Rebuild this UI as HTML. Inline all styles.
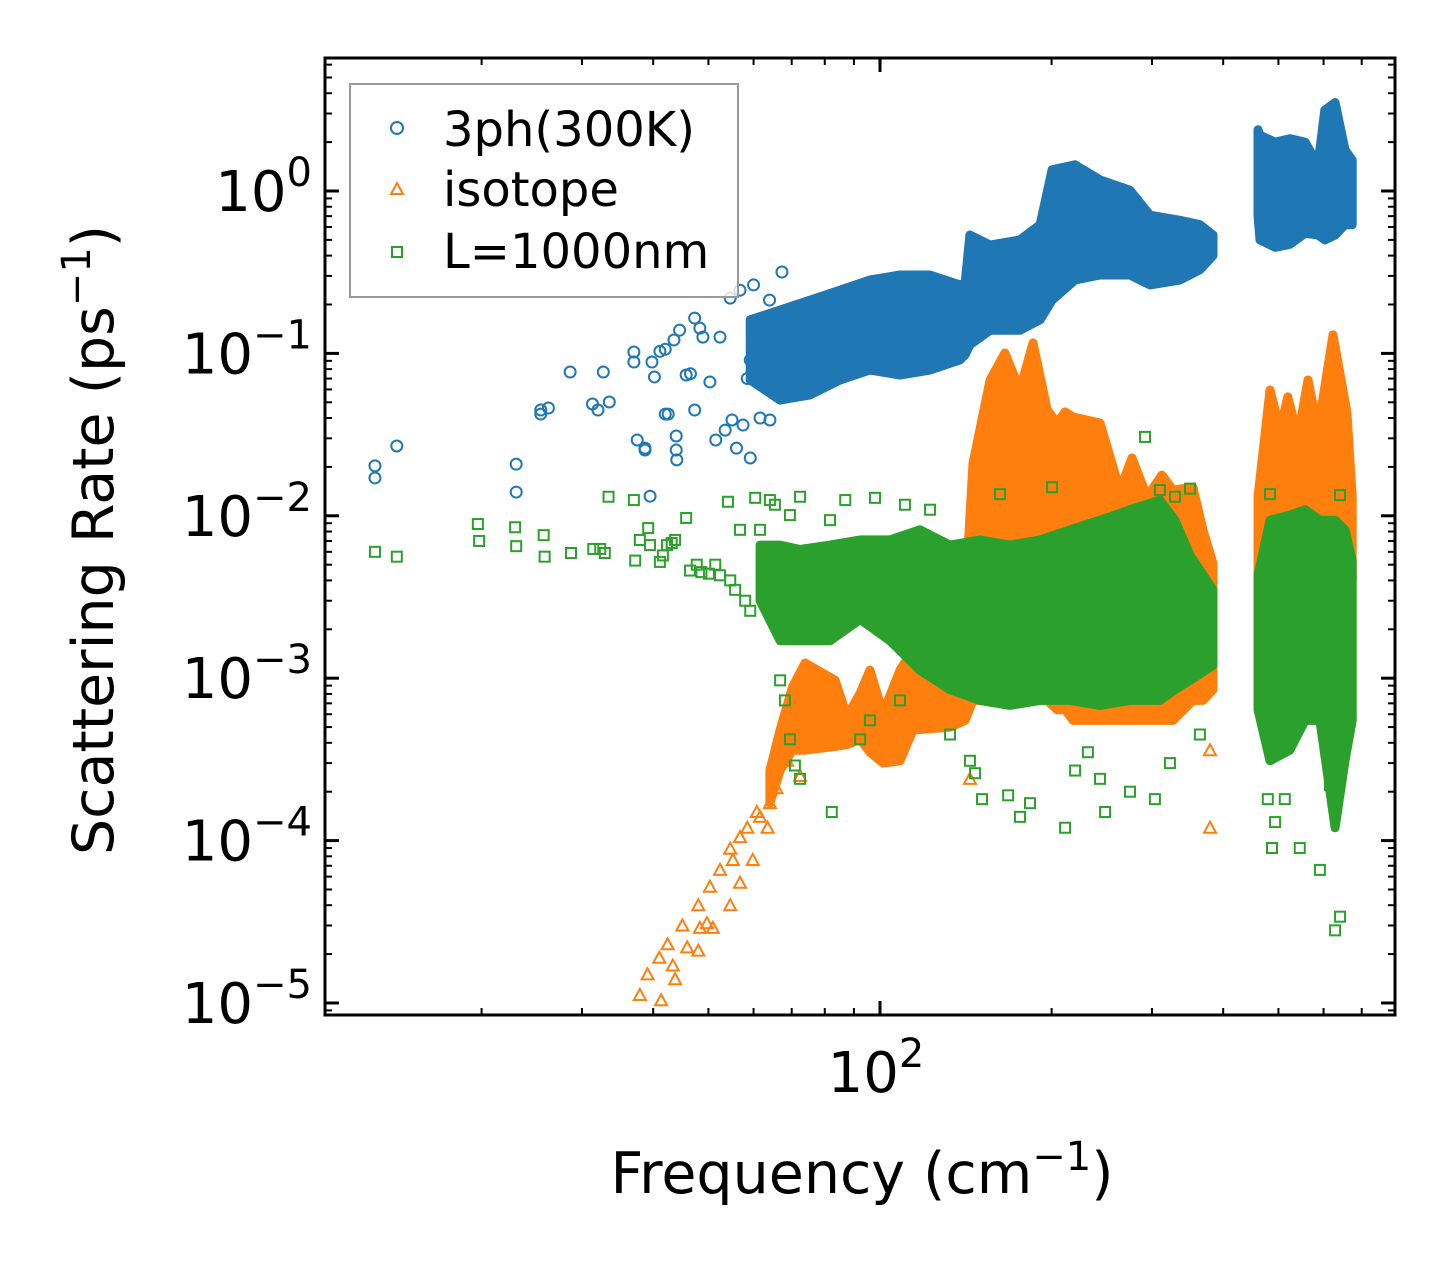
<!DOCTYPE html>
<html><head><meta charset="utf-8"><style>
html,body{margin:0;padding:0;background:#fff}
svg{display:block;font-family:"DejaVu Sans","Liberation Sans",sans-serif}
</style></head><body>
<svg id="chart" width="1455" height="1265" viewBox="0 0 1455 1265" xmlns="http://www.w3.org/2000/svg">
<g id="marks"></g>
<g id="axes"></g>
<g id="legend">
<rect x="350" y="84" width="388" height="213" fill="#fff" fill-opacity="0.8" stroke="#999" stroke-width="2"/>
<circle cx="397" cy="128" r="6" fill="none" stroke="#1f77b4" stroke-width="2"/>
<text x="443" y="146" font-size="48">3ph(300K)</text>
<path d="M397 183 L403 194 L391 194 Z" fill="none" stroke="#ff7f0e" stroke-width="2"/>
<text x="443" y="206" font-size="48">isotope</text>
<rect x="392" y="247" width="10" height="10" fill="none" stroke="#2ca02c" stroke-width="2"/>
<text x="443" y="268" font-size="48">L=1000nm</text>
</g>
<text transform="translate(113,540) rotate(-90)" text-anchor="middle" font-size="57">Scattering Rate (ps<tspan dy="-23" font-size="40">−1</tspan><tspan dy="23">)</tspan></text>
<text x="862" y="1193" text-anchor="middle" font-size="57">Frequency (cm<tspan dy="-23" font-size="40">−1</tspan><tspan dy="23">)</tspan></text>
</svg>
<script>
// ---- data ----
const blueSparseF=[13.0,13.0,14.2,23.0,23.0,25.4,25.4,26.2,28.6,31.3,32,32.7,33.5,37.0,37.0,37.5,38.7,38.7,39.5,39.8,40.2,41.1,42,42,42.5,43.5,43.9,43.9,44,44.5,45.7,46.5,47.3,47.3,48.3,48.9,50.3,51.5,52.4,53.5,54.6,55,56,56.8,57.5,58.5,59.2,59.2,60,61,61,61.6,63,64,64.1,67.3];
const blueSparseR=[0.0203,0.0171,0.0269,0.0208,0.014,0.0448,0.0423,0.0461,0.0768,0.0488,0.0448,0.0768,0.0502,0.102,0.0885,0.0293,0.0261,0.0254,0.0132,0.0885,0.0716,0.103,0.106,0.0423,0.0423,0.121,0.0254,0.031,0.0221,0.139,0.0736,0.075,0.165,0.0448,0.143,0.126,0.0667,0.0293,0.126,0.0337,0.219,0.0389,0.0261,0.245,0.0362,0.07,0.0227,0.091,0.264,0.139,0.0736,0.04,0.161,0.213,0.0389,0.317];
const blueBandF=[59.2,66.8,75.4,85.1,96.0,108.4,122.4,138.1,141.0,143.8,156.0,176.0,190.9,200.4,219.9,243.2,274.5,297.6,335.9,364.1,383.9];
const blueBandLo=[0.0686,0.0516,0.0555,0.0686,0.079,0.0736,0.079,0.091,0.098,0.113,0.139,0.139,0.161,0.213,0.283,0.304,0.304,0.264,0.283,0.327,0.40];
const blueBandHi=[0.161,0.185,0.213,0.245,0.283,0.304,0.304,0.264,0.27,0.536,0.465,0.50,0.62,1.35,1.45,1.17,1.01,0.71,0.66,0.62,0.536];
const blueBand2F=[460.4,464.2,493.3,523.6,557,586.6,603,628.6,654.3,673.5];
const blueBand2Lo=[0.71,0.50,0.45,0.47,0.55,0.536,0.50,0.536,0.62,0.62];
const blueBand2Hi=[2.38,2.2,2.0,2.1,2.0,1.45,3.15,3.5,1.79,1.55];

const orangeSparseF=[37.9,41.3,39.1,41.0,43.3,43.7,42.4,45.0,45.9,48.0,48.3,49.7,50.9,48.0,54.6,50.3,52.4,55.2,56.8,56.8,59.8,61.6,64.1,63.5,54.6,58.5,60.8,65.8,68.7,72.4,143.8,379.3,379.3];
const orangeSparseR=[0.0000112,0.0000104,0.000015,0.000019,0.000017,0.000014,0.000023,0.00003,0.000022,0.000021,0.000029,0.000031,0.000029,0.00004,0.00004,0.000052,0.000066,0.000076,0.000055,0.000105,0.000076,0.00014,0.00017,0.00012,0.000089,0.00012,0.00015,0.00021,0.00031,0.00025,0.00024,0.00012,0.00036];
const orangeBandF=[64.1,66.8,70.2,73.9,83.4,87.5,92.3,96.0,101.2,108.4,114.3,132.7,141.0,145.6,156.0,165.6,176.0,185.5,196.5,204.5,211.2,218.2,243.2,253.3,263.6,276.7,294.0,312.3,326.6,354.0,368.6,383.9];
const orangeBandLo=[0.00017,0.00027,0.00036,0.00036,0.00038,0.00039,0.00042,0.00035,0.0003,0.00031,0.00048,0.0005,0.00055,0.00073,0.00073,0.00073,0.00073,0.00073,0.00073,0.00064,0.00064,0.00055,0.00055,0.00055,0.00055,0.00055,0.00055,0.00055,0.00055,0.00073,0.00073,0.00085];
const orangeBandHi=[0.00027,0.00048,0.00088,0.00124,0.00097,0.00058,0.00081,0.00112,0.00061,0.00112,0.0015,0.0017,0.0030,0.0211,0.0686,0.1005,0.0595,0.116,0.0448,0.0373,0.0436,0.0406,0.0373,0.023,0.0144,0.0227,0.0131,0.0178,0.0144,0.0150,0.0082,0.0051];
const orangeBand2F=[460.4,483.3,503.4,519.4,541,563.5,586.6,623.3,659.7,673.5];
const orangeBand2Lo=[0.004,0.0053,0.0053,0.0053,0.0053,0.0053,0.0053,0.0053,0.0053,0.004];
const orangeBand2Hi=[0.0131,0.0595,0.0337,0.054,0.0306,0.0686,0.0337,0.130,0.043,0.0131];

const greenSparseF=[13.0,14.2,19.7,19.8,22.9,23.0,25.7,25.8,28.7,31.4,32.3,32.9,33.4,37.0,37.2,37.9,39.2,39.5,41.1,41.6,42.3,43.1,43.7,45.7,46.4,47.7,48.6,50.1,51.4,52.4,54.1,54.6,55.7,56.8,58.0,59.2,60.4,61.6,64.1,65.4,69.5,72.4,81.7,86.9,98.0,110.6,122.4,66.8,68.1,69.5,70.9,72.4,82.3,92.3,96.0,108.4,132.7,143.8,146.8,151.0,167.8,176.0,183.3,211.2,219.9,231.6,243.2,248.2,274.5,303.6,322.6,364.1,493.3,487.2,545,591.2,628.6,641.3,615.8,479,513,291.7,309.8,349.9,329.3,200.4,162.4,483.3,641.3];
const greenSparseR=[0.0060,0.0056,0.0089,0.0070,0.0085,0.0065,0.0076,0.0056,0.0059,0.00625,0.00625,0.0059,0.0131,0.0125,0.0053,0.0071,0.0084,0.0066,0.0052,0.0057,0.0066,0.0068,0.0071,0.0097,0.0046,0.0050,0.0045,0.0044,0.0050,0.0043,0.0122,0.0040,0.0035,0.0082,0.0030,0.0026,0.0129,0.0082,0.0125,0.0117,0.0101,0.0131,0.0094,0.0125,0.0129,0.0117,0.0109,0.00097,0.00073,0.00042,0.00029,0.00024,0.00015,0.00042,0.00055,0.00073,0.00045,0.00031,0.00026,0.00018,0.00019,0.00014,0.00017,0.00012,0.00027,0.00035,0.00024,0.00015,0.0002,0.00018,0.0003,0.00045,0.00013,0.00009,0.00009,0.000066,0.000028,0.000034,0.00022,0.00018,0.00018,0.0306,0.0144,0.0147,0.0131,0.0150,0.0136,0.0136,0.0134];
const greenBandF=[61.6,66.8,72.4,81.7,92.3,104.1,117.5,132.7,149.7,169.0,190.9,215.4,243.2,274.5,309.8,329.3,349.9,383.9];
const greenBandLo=[0.0030,0.0017,0.0017,0.0017,0.0023,0.0017,0.00112,0.00085,0.00073,0.00068,0.00073,0.00073,0.00068,0.00073,0.00073,0.00085,0.00097,0.0012];
const greenBandHi=[0.0066,0.0066,0.0062,0.0066,0.0071,0.0071,0.0082,0.0066,0.0071,0.0066,0.0071,0.0082,0.0094,0.0109,0.0125,0.0094,0.0057,0.0035];
const greenBand2F=[460.4,483.3,523.6,557,591.2,628.6,654.3,673.5];
const greenBand2Lo=[0.00064,0.00031,0.00036,0.00055,0.00055,0.00012,0.00031,0.00055];
const greenBand2Hi=[0.0043,0.0094,0.0101,0.0109,0.0094,0.0094,0.0082,0.0053];

const yTickExps=[0,-1,-2,-3,-4,-5];
const yTickLabels=["0","\u22121","\u22122","\u22123","\u22124","\u22125"];
const xMajorExps=[2];
const xMajorLabels=["2"];

// ---- scales ----
const L=325,R=1395,T=58,B=1015;
const xmin=1.0263,xmax=2.9035,ymin=-5.074,ymax=0.819;
function sx(f){return L+(Math.log10(f)-xmin)/(xmax-xmin)*(R-L);}
function sy(v){return B-(Math.log10(v)-ymin)/(ymax-ymin)*(B-T);}
const NS="http://www.w3.org/2000/svg";
const marks=document.getElementById('marks'), axes=document.getElementById('axes');
function mk(tag,attrs,parent){const e=document.createElementNS(NS,tag);for(const k in attrs)e.setAttribute(k,attrs[k]);parent.appendChild(e);return e;}

function band(F,Lo,Hi,color,name){
  let pts=[];
  for(let i=0;i<F.length;i++)pts.push(sx(F[i]).toFixed(1)+','+sy(Hi[i]).toFixed(1));
  for(let i=F.length-1;i>=0;i--)pts.push(sx(F[i]).toFixed(1)+','+sy(Lo[i]).toFixed(1));
  const p=mk('polygon',{points:pts.join(' '),fill:color,stroke:color,'stroke-width':9,'stroke-linejoin':'round'},marks);
  
  
}
function circles(F,V,color){
  for(let i=0;i<F.length;i++){
    const c=mk('circle',{cx:sx(F[i]),cy:sy(V[i]),r:5.5,fill:'none',stroke:color,'stroke-width':2},marks);
    
    
  }
}
function tris(F,V,color){
  for(let i=0;i<F.length;i++){
    const x=sx(F[i]),y=sy(V[i]);
    const t=mk('path',{d:`M${x} ${y-6} L${x+6} ${y+5} L${x-6} ${y+5} Z`,fill:'none',stroke:color,'stroke-width':2},marks);
    
    
  }
}
function squares(F,V,color){
  for(let i=0;i<F.length;i++){
    const s=mk('rect',{x:sx(F[i])-5,y:sy(V[i])-5,width:10,height:10,fill:'none',stroke:color,'stroke-width':2},marks);
    
    
  }
}
const CB='#1f77b4',CO='#ff7f0e',CG='#2ca02c';
band(blueBandF,blueBandLo,blueBandHi,CB,'band-3ph-low');
band(blueBand2F,blueBand2Lo,blueBand2Hi,CB,'band-3ph-high');
circles(blueSparseF,blueSparseR,CB);
band(orangeBandF,orangeBandLo,orangeBandHi,CO,'band-isotope-low');
band(orangeBand2F,orangeBand2Lo,orangeBand2Hi,CO,'band-isotope-high');
tris(orangeSparseF,orangeSparseR,CO);
band(greenBandF,greenBandLo,greenBandHi,CG,'band-boundary-low');
band(greenBand2F,greenBand2Lo,greenBand2Hi,CG,'band-boundary-high');
squares(greenSparseF,greenSparseR,CG);

// ---- axes ----
const frame=mk('rect',{x:L,y:T,width:R-L,height:B-T,fill:'none',stroke:'#000','stroke-width':3},axes);


function tick(x1,y1,x2,y2,w){mk('line',{x1:x1,y1:y1,x2:x2,y2:y2,stroke:'#000','stroke-width':w},axes);}
for(let e=-6;e<=1;e++){
  for(let m=1;m<10;m++){
    const v=m*Math.pow(10,e);const lv=Math.log10(v);
    if(lv<ymin||lv>ymax)continue;
    const y=sy(v);const len=m===1?14:7,w=m===1?3:2;
    tick(L,y,L+len,y,w);tick(R,y,R-len,y,w);
  }
}
for(let e=0;e<=3;e++){
  for(let m=1;m<10;m++){
    const f=m*Math.pow(10,e);const lf=Math.log10(f);
    if(lf<=xmin||lf>=xmax)continue;
    const x=sx(f);const len=m===1?14:7,w=m===1?3:2;
    tick(x,B,x,B-len,w);tick(x,T,x,T+len,w);
  }
}
yTickExps.forEach((e,i)=>{
  const t=mk('text',{x:312,y:sy(Math.pow(10,e))+20,'text-anchor':'end','font-size':56},axes);
  
  
  t.innerHTML='10<tspan dy="-25" font-size="40">'+yTickLabels[i]+'</tspan>';
});
xMajorExps.forEach((e,i)=>{
  const t=mk('text',{x:sx(Math.pow(10,e))-4,y:1092,'text-anchor':'middle','font-size':56},axes);
  
  
  t.innerHTML='10<tspan dy="-25" font-size="40">'+xMajorLabels[i]+'</tspan>';
});
</script>
</body></html>
